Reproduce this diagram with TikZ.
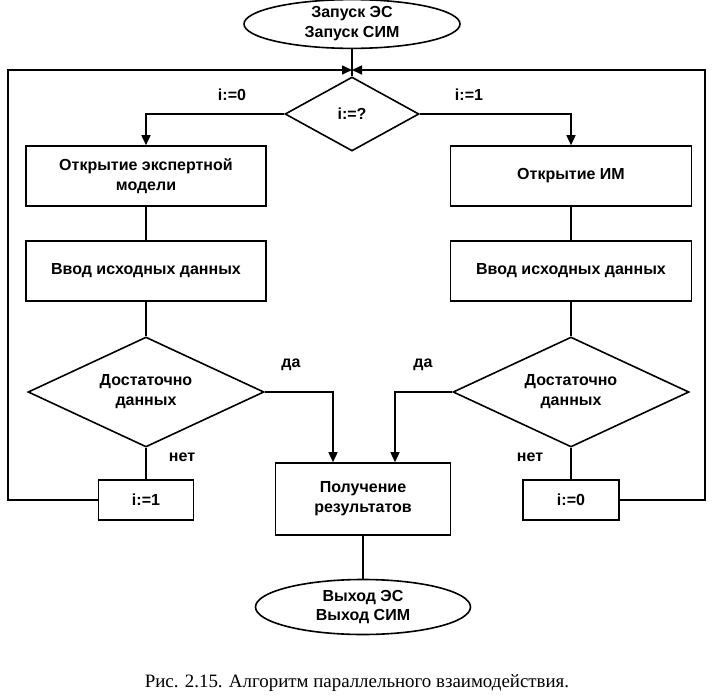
\documentclass[tikz,border=0pt]{standalone}
\usepackage{fontspec}
\setmainfont{Liberation Sans}
\newfontfamily\capfont{Liberation Serif}
\usetikzlibrary{shapes.geometric,arrows.meta}
\begin{document}
\begin{tikzpicture}[x=1pt,y=-1pt,
  every node/.style={font=\bfseries\fontsize{16}{20}\selectfont, align=center, inner sep=0pt},
  ln/.style={line width=1.6pt},
  arr/.style={line width=1.6pt,-{Triangle[length=10pt,width=9pt]}},
  procbox/.style={draw,line width=1.6pt,rectangle},
  decision/.style={draw,line width=1.6pt,diamond,aspect=2},
  terminal/.style={draw,line width=1.6pt,ellipse},
  lbl/.style={font=\bfseries\fontsize{16}{18}\selectfont}
]
\useasboundingbox (0,0) rectangle (715,699);
\node[terminal,minimum width=216pt,minimum height=42pt] (start) at (352,24) {Запуск ЭС\\Запуск СИМ};
\node[decision,minimum width=134pt,minimum height=74pt] (dq) at (352,114) {i:=?};
\node[procbox,minimum width=240pt,minimum height=60pt] (L1) at (146,176) {Открытие экспертной\\модели};
\node[procbox,minimum width=240pt,minimum height=60pt] (L2) at (146,271) {Ввод исходных данных};
\node[decision,minimum width=236pt,minimum height=110pt] (LD) at (146,392) {Достаточно\\данных};
\node[procbox,minimum width=95pt,minimum height=40pt] (I1) at (146,500) {i:=1};
\node[procbox,minimum width=241pt,minimum height=60pt] (R1) at (571,176) {Открытие ИМ};
\node[procbox,minimum width=241pt,minimum height=60pt] (R2) at (571,271) {Ввод исходных данных};
\node[decision,minimum width=236pt,minimum height=110pt] (RD) at (571,392) {Достаточно\\данных};
\node[procbox,minimum width=96pt,minimum height=40pt] (I0) at (571,500) {i:=0};
\node[procbox,minimum width=175pt,minimum height=72pt] (Res) at (363,499) {Получение\\результатов};
\node[terminal,minimum width=215pt,minimum height=55pt] (End) at (363,607) {Выход ЭС\\Выход СИМ};
\coordinate (jn) at (352,70);
\coordinate (LL) at (8,70);
\coordinate (RR) at (705,70);
\node[lbl] (t0) at (232,95) {i:=0};
\node[lbl] (t1) at (469,95) {i:=1};
\node[lbl] (ya) at (291,365) {да};
\node[lbl] (yb) at (423,365) {да};
\node[lbl] (na) at (182,457) {нет};
\node[lbl] (nb) at (530,457) {нет};
\draw[ln] (start.south) -- (dq.north);
\draw[arr] (dq.west) -| (L1.north);
\draw[arr] (dq.east) -| (R1.north);
\draw[ln] (L1.south) -- (L2.north);
\draw[ln] (L2.south) -- (LD.north);
\draw[ln] (LD.south) -- (I1.north);
\draw[ln] (R1.south) -- (R2.north);
\draw[ln] (R2.south) -- (RD.north);
\draw[ln] (RD.south) -- (I0.north);
\draw[arr] (LD.east) -| ([xshift=-30pt]Res.north);
\draw[arr] (RD.west) -| ([xshift=32pt]Res.north);
\draw[ln] (Res.south) -- (End.north);
\draw[arr] (I1.west) -| (LL) -- (jn);
\draw[arr] (I0.east) -| (RR) -- (jn);
\node[font=\capfont\fontsize{18.9}{22}\selectfont] (cap) at (357,683) {Рис. 2.15. Алгоритм параллельного взаимодействия.};
\end{tikzpicture}
\end{document}
